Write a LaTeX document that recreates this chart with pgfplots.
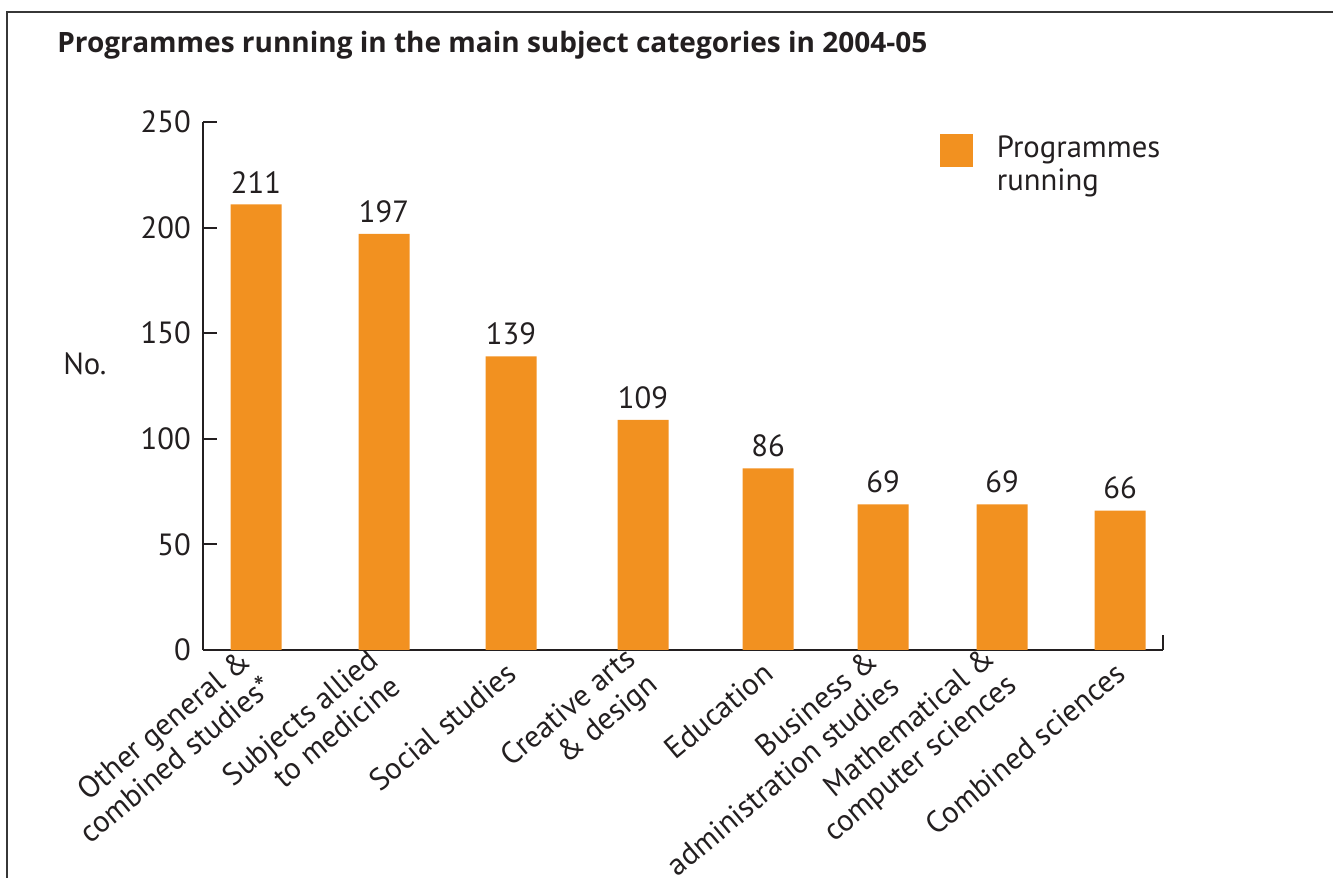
\documentclass[border=0pt]{standalone}
\usepackage{fontspec}
\setmainfont{PT Sans}
\newfontfamily\titlefont{Open Sans}
\usepackage{pgfplots}
\pgfplotsset{compat=1.18}
\definecolor{barorange}{RGB}{242,145,32}
\definecolor{framegray}{RGB}{55,55,55}
\definecolor{axisblack}{RGB}{35,31,32}
\begin{document}
\begin{tikzpicture}
\path[use as bounding box] (0,0) rectangle (999.75pt,657.75pt);
\begin{scope}
\clip (0,0) rectangle (999.75pt,657.75pt);
\draw[framegray, line width=1.1pt] (5.25pt,-5pt) -- (5.25pt,648.75pt) -- (1005pt,648.75pt);
\node[anchor=base west, font=\titlefont\bfseries\fontsize{21}{25}\selectfont, inner sep=0, text=axisblack] at (42.75pt,618pt) {Programmes running in the main subject categories in 2004-05};
\begin{axis}[
  scale only axis,
  width=720pt, height=396pt,
  at={(152.25pt,170.25pt)}, anchor=south west,
  xmin=203, xmax=1163, ymin=0, ymax=250,
  axis lines*=left,
  axis line style={line width=1.6pt, color=axisblack},
  ytick={0,50,100,150,200,250},
  tick align=inside,
  major tick length=10.5pt,
  ytick style={line width=1.5pt, color=axisblack},
  xtick={256,384,511,643,768,883,1002,1120},
  xticklabels={{Other general \&\\combined studies*},{Subjects allied\\to medicine},{Social studies},{Creative arts\\\& design},{Education},{Business \&\\administration studies},{Mathematical \&\\computer sciences},{Combined sciences}},
  xtick style={draw=none},
  /pgf/number format/assume math mode=true,
  y tick label style={font=\fontsize{23}{27}\selectfont, inner sep=0, xshift=-9pt, text=axisblack},
  x tick label style={font=\fontsize{23}{25.5}\selectfont, inner sep=0, align=right, xshift=0.5pt, yshift=-3.5pt, rotate=40, anchor=east, text=axisblack},
  ylabel={No.},
  ylabel style={rotate=-90, at={(axis description cs:-0.123,0.542)}, anchor=center, font=\fontsize{23}{27}\selectfont, text=axisblack},
  ybar, bar width=38.25pt,
  nodes near coords,
  every node near coord/.append style={font=\fontsize{23}{27}\selectfont, inner sep=0, yshift=8.25pt, text=axisblack},
  legend style={at={(axis description cs:0.7677,0.9866)}, anchor=north west, draw=none, fill=none, inner sep=0, font=\fontsize{23}{27}\selectfont, text=axisblack},
  legend cell align=left,
  legend image code/.code={\path[fill=none, draw=none] (0pt,0pt) rectangle (40.5pt,0pt); \fill[barorange] (0pt,-16.1pt) rectangle (24.75pt,8.6pt);},
  clip=false,
]
\addplot[fill=barorange, draw=none] coordinates {(256,211) (384,197) (511,139) (643,109) (768,86) (883,69) (1002,69) (1120,66)};
\addlegendentry{\begin{tabular}[t]{@{}l@{}}Programmes\\[-2pt]running\end{tabular}}
\draw[axisblack, line width=1.5pt] (axis cs:1163,0) -- (axis cs:1163,7.1);
\end{axis}
\end{scope}
\end{tikzpicture}
\end{document}
